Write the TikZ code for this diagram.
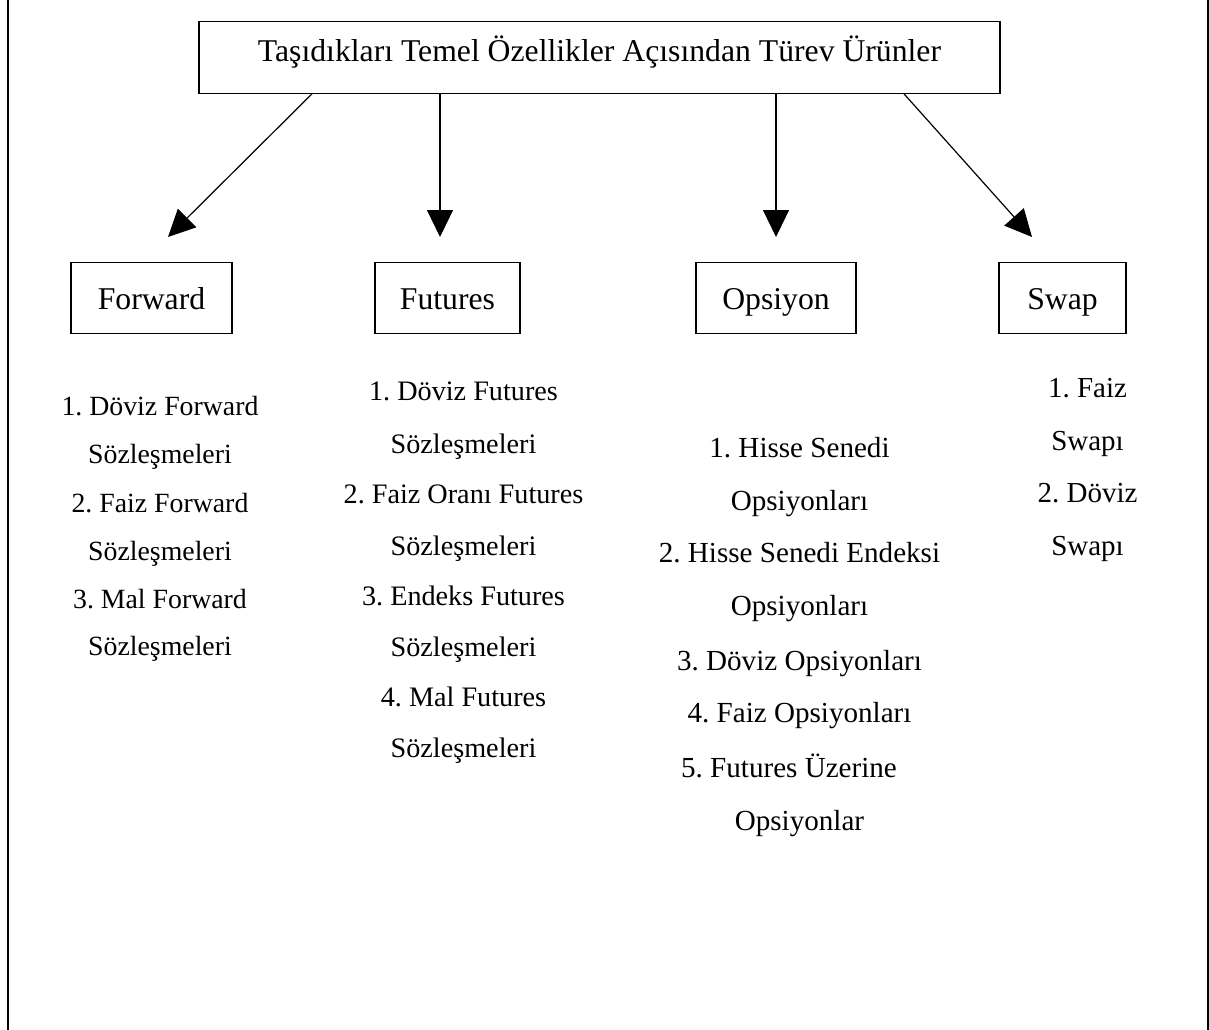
\documentclass[tikz,border=0pt]{standalone}
\usepackage{fontspec}
\setmainfont{Liberation Serif}
\usetikzlibrary{arrows.meta}
\frenchspacing
\begin{document}
\begin{tikzpicture}[x=1pt,y=-1pt,
  box/.style={draw, line width=1.2pt, inner sep=0pt, minimum height=71.5pt,
    text height=30pt, text depth=7pt, font=\fontsize{31.7}{36}\selectfont},
  titlebox/.style={box, text height=24pt, text depth=17pt},
  arr/.style={line width=1.2pt, -{Triangle[length=27pt,width=26pt]}},
  item/.style={anchor=base, inner sep=0pt},
  frame/.style={line width=1.8pt}
]
\useasboundingbox (0,0) rectangle (1209,1029);

% page frame (left and right sides)
\draw[frame] (8,-5) -- (8,1035);
\draw[frame] (1207.6,-5) -- (1207.6,1035);

% heading
\node[titlebox, minimum width=801pt] (title) at (599.5,57.5)
  {Taşıdıkları Temel Özellikler Açısından Türev Ürünler};

% the four product types
\node[box, minimum width=161pt] (fwd) at (151.5,298) {Forward};
\node[box, minimum width=145pt] (fut) at (447.5,298) {Futures};
\node[box, minimum width=160pt] (ops) at (776,298) {Opsiyon};
\node[box, minimum width=127pt] (swp) at (1062.5,298) {Swap};

% arrow tips stop short of the boxes
\coordinate (tfwd) at (168,237);
\coordinate (tfut) at (440,237);
\coordinate (tops) at (776,237);
\coordinate (tswp) at (1032,237);

\draw[arr] ([xshift=-287.5pt]title.south) -- (tfwd);
\draw[arr] ([xshift=-159.5pt]title.south) -- (tfut);
\draw[arr] ([xshift=176.5pt]title.south) -- (tops);
\draw[arr] ([xshift=304.5pt]title.south) -- (tswp);

% Forward contracts
\foreach \y/\t [count=\i] in {415/1. Döviz Forward, 463/Sözleşmeleri,
    512/2. Faiz Forward, 560/Sözleşmeleri, 608/3. Mal Forward, 655/Sözleşmeleri}
  \node[item, font=\fontsize{27.8}{30}\selectfont] (fw\i) at (160,\y) {\t};

% Futures contracts
\foreach \y/\t [count=\i] in {400/1. Döviz Futures, 453/Sözleşmeleri,
    503/2. Faiz Oranı Futures, 555/Sözleşmeleri, 605/3. Endeks Futures,
    656/Sözleşmeleri, 706/4. Mal Futures, 757/Sözleşmeleri}
  \node[item, font=\fontsize{28.2}{30}\selectfont] (fu\i) at (463.5,\y) {\t};

% Options
\foreach \x/\y/\t [count=\i] in {799.5/457/1. Hisse Senedi, 799.5/510/Opsiyonları,
    799.5/562/2. Hisse Senedi Endeksi, 799.5/615/Opsiyonları,
    799.5/670/3. Döviz Opsiyonları, 799.5/722/4. Faiz Opsiyonları,
    789/777/5. Futures Üzerine, 799.5/830/Opsiyonlar}
  \node[item, font=\fontsize{29.1}{30}\selectfont] (op\i) at (\x,\y) {\t};

% Swaps
\foreach \y/\t [count=\i] in {397/1. Faiz, 450/Swapı, 502/2. Döviz, 555/Swapı}
  \node[item, font=\fontsize{29}{30}\selectfont] (sw\i) at (1087.5,\y) {\t};
\end{tikzpicture}
\end{document}
